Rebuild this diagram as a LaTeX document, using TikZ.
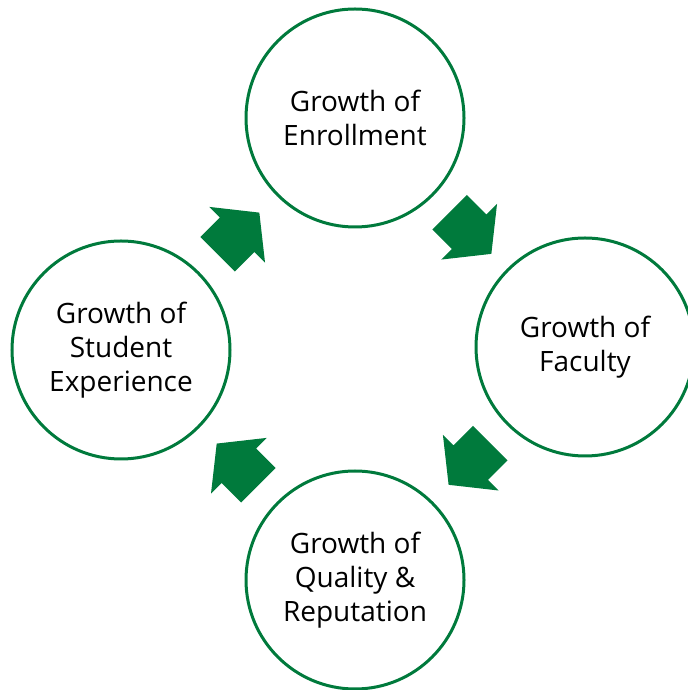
\documentclass[tikz,border=0pt]{standalone}
\usepackage{fontspec}
\setmainfont{Open Sans}
\usepackage{xcolor}
\usepackage{tikz}
\usetikzlibrary{shapes.arrows, calc}
\definecolor{CycGreen}{HTML}{007A3C}
\tikzset{
  growth node/.style={circle, draw=CycGreen, line width=1.5pt, minimum size=109pt,
                      inner sep=0pt, align=center,
                      font=\fontsize{14pt}{17pt}\selectfont},
  cycle arrow/.style={single arrow, fill=CycGreen, draw=none, inner xsep=0pt,
                      inner ysep=12pt, minimum height=29.5pt, minimum width=39pt,
                      single arrow head extend=7.5pt, single arrow tip angle=103},
}

\begin{document}
\begin{tikzpicture}[x=0.5pt, y=0.5pt]
  \useasboundingbox (0,0) rectangle (688,690);
  \node[growth node] (enroll) at (355,572) {Growth of\\Enrollment};
  \node[growth node] (faculty) at (585,343) {Growth of\\Faculty};
  \node[growth node] (quality) at (355,110) {Growth of\\Quality \&\\Reputation};
  \node[growth node] (student) at (121,340) {Growth of\\Student\\Experience};
  % arrows sit halfway between circles, pulled back a little toward the tail
  \node[cycle arrow, rotate=45] (a1) at ($(student)!0.5!(enroll)!4.5pt!(student)$) {};
  \node[cycle arrow, rotate=-45] (a2) at ($(enroll)!0.5!(faculty)!4.5pt!(enroll)$) {};
  \node[cycle arrow, rotate=-135] (a3) at ($(faculty)!0.5!(quality)!4.5pt!(faculty)$) {};
  \node[cycle arrow, rotate=135] (a4) at ($(quality)!0.5!(student)!4.5pt!(quality)$) {};
\end{tikzpicture}
\end{document}
